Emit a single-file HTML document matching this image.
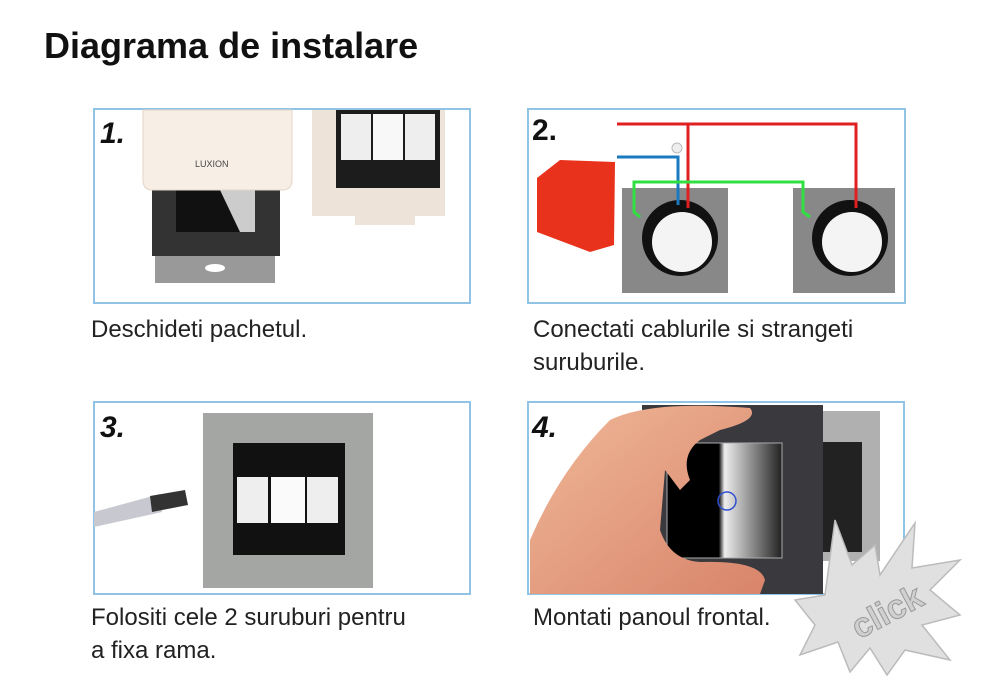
<!DOCTYPE html>
<html><head><meta charset="utf-8"><style>
html,body{margin:0;padding:0;background:#fff;}
body{width:1000px;height:698px;position:relative;overflow:hidden;font-family:"Liberation Sans",sans-serif;}
.t{position:absolute;font-size:24px;color:#222;line-height:33px;font-weight:300;}
</style></head><body>
<div style="position:absolute;left:44px;top:25px;font-size:36px;font-weight:bold;color:#111;">Diagrama de instalare</div>
<svg width="1000" height="698" style="position:absolute;left:0;top:0">
<defs>
<linearGradient id="gl" x1="0" y1="0" x2="1" y2="0"><stop offset="0.45" stop-color="#000"/><stop offset="0.5" stop-color="#eee"/><stop offset="1" stop-color="#222"/></linearGradient>
<linearGradient id="sk" x1="0" y1="0" x2="1" y2="1"><stop offset="0" stop-color="#f0b898"/><stop offset="1" stop-color="#d8846a"/></linearGradient>
</defs>
<!-- panel 1 -->
<rect x="94" y="109" width="376" height="194" fill="#fff" stroke="#8fc4e6" stroke-width="2"/>
<rect x="152" y="188" width="128" height="68" fill="#333"/>
<polygon points="176,190 255,190 255,232 176,232" fill="#111"/>
<polygon points="220,190 255,190 255,232 240,232" fill="#ccc"/>
<rect x="155" y="256" width="120" height="27" fill="#999"/>
<ellipse cx="215" cy="268" rx="10" ry="4" fill="#fff"/>
<path d="M143 110 H292 V180 Q292 190 282 190 H152 Q143 190 143 180 Z" fill="#f7efe6" stroke="#e4d6c6"/>
<text x="195" y="167" font-size="9" fill="#444">LUXION</text>
<path d="M312 110 H445 V216 H415 V225 H355 V216 H312 Z" fill="#ede3d9"/>
<rect x="336" y="110" width="104" height="78" fill="#1c1c1c"/>
<rect x="341" y="114" width="30" height="46" fill="#eee"/><rect x="373" y="114" width="30" height="46" fill="#f8f8f8"/><rect x="405" y="114" width="30" height="46" fill="#eee"/>
<text x="100" y="143" font-size="30" font-weight="bold" font-style="italic" fill="#111">1.</text>
<!-- panel 2 -->
<rect x="528" y="109" width="377" height="194" fill="#fff" stroke="#8fc4e6" stroke-width="2"/>
<polygon points="537,178 560,160 615,162 614,245 590,252 537,232" fill="#e8321c"/>
<rect x="622" y="188" width="106" height="105" fill="#888"/>
<rect x="793" y="188" width="102" height="105" fill="#888"/>
<circle cx="680" cy="238" r="38" fill="#111"/><circle cx="850" cy="238" r="38" fill="#111"/>
<circle cx="682" cy="242" r="30" fill="#f4f4f4"/><circle cx="852" cy="242" r="30" fill="#f4f4f4"/>
<polyline points="617,124 856,124 856,208" fill="none" stroke="#e02020" stroke-width="3"/>
<line x1="688" y1="124" x2="688" y2="208" stroke="#e02020" stroke-width="3"/>
<polyline points="617,157 678,157 678,205" fill="none" stroke="#1a7ac0" stroke-width="3"/>
<polyline points="640,217 634,212 634,182 803,182 803,212 810,217" fill="none" stroke="#30e040" stroke-width="3"/>
<circle cx="677" cy="148" r="5" fill="#eee" stroke="#bbb"/>
<text x="532" y="140" font-size="30" font-weight="bold" fill="#111">2.</text>
<!-- panel 3 -->
<rect x="94" y="402" width="376" height="192" fill="#fff" stroke="#8fc4e6" stroke-width="2"/>
<rect x="203" y="413" width="170" height="175" fill="#a4a6a4"/>
<rect x="233" y="443" width="112" height="112" fill="#111"/>
<rect x="237" y="477" width="31" height="46" fill="#eee"/><rect x="271" y="477" width="34" height="46" fill="#fafafa"/><rect x="307" y="477" width="31" height="46" fill="#eee"/>
<polygon points="94,512 160,494 162,512 94,527" fill="#c8c8d0"/>
<polygon points="150,496 185,490 188,505 152,512" fill="#333"/>
<text x="100" y="437" font-size="30" font-weight="bold" font-style="italic" fill="#111">3.</text>
<!-- panel 4 -->
<rect x="528" y="402" width="376" height="192" fill="#fff" stroke="#8fc4e6" stroke-width="2"/>
<rect x="822" y="411" width="58" height="150" fill="#b0b0b0"/>
<rect x="822" y="442" width="40" height="110" fill="#222"/>
<rect x="642" y="405" width="181" height="189" fill="#3a3a3e"/>
<rect x="667" y="443" width="115" height="115" fill="url(#gl)" stroke="#aaa"/>
<circle cx="727" cy="501" r="9" fill="none" stroke="#3050d0" stroke-width="1.5"/>
<path d="M530 594 L530 540 Q560 470 610 420 Q650 400 750 408 Q760 420 720 430 L700 440 Q680 455 690 480 L680 490 L665 470 L660 530 Q670 560 700 562 Q760 560 765 580 L760 594 Z" fill="url(#sk)"/>
<text x="532" y="437" font-size="30" font-weight="bold" font-style="italic" fill="#111">4.</text>
<!-- click star -->
<polygon points="835,520 852,565 875,545 880,575 915,523 912,568 960,560 930,590 960,615 922,625 950,660 905,650 887,675 870,648 850,672 838,642 800,655 815,625 795,600 825,595" fill="#e0e0e0" stroke="#bbb" stroke-width="1.5"/>
<text x="843" y="625" font-size="34" font-weight="bold" fill="#d0d0d0" stroke="#999" stroke-width="1" transform="rotate(-28 880 600)">click</text>
</svg>
<div class="t" style="left:91px;top:313px">Deschideti pachetul.</div>
<div class="t" style="left:533px;top:313px">Conectati cablurile si strangeti<br>suruburile.</div>
<div class="t" style="left:91px;top:601px">Folositi cele 2 suruburi pentru<br>a fixa rama.</div>
<div class="t" style="left:533px;top:601px">Montati panoul frontal.</div>
</body></html>
